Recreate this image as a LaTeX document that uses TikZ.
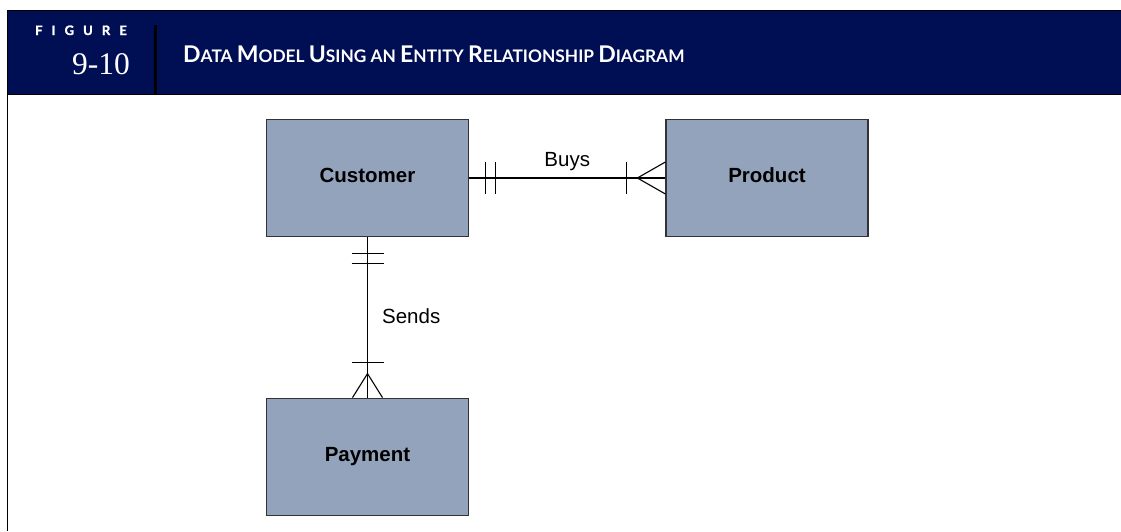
\documentclass[tikz,border=0pt]{standalone}
\usepackage{fontspec}
\setmainfont{Liberation Sans}
\newfontfamily\hdfont{Lato}
\newfontfamily\figfont[LetterSpace=70,FakeBold=1.5]{Lato}
\newfontfamily\numfont{Liberation Serif}
\usetikzlibrary{calc}
\definecolor{navy}{RGB}{0,14,84}
\definecolor{entfill}{RGB}{148,163,188}
\definecolor{entline}{RGB}{50,50,55}
\tikzset{
  entity/.style={draw=entline, fill=entfill, line width=1.2pt, minimum width=202pt, minimum height=117pt,
    inner sep=0pt, font=\fontsize{20.5}{24}\selectfont\bfseries, text height=15pt, text depth=6pt},
  rel/.style={line width=1.3pt, black},
  tick/.style={line width=1.1pt, black},
  lbl/.style={font=\fontsize{20.5}{24}\selectfont, inner sep=0pt},
  frame/.style={line width=1.6pt, black}
}
\newcommand\bigc{\fontsize{23}{26}\selectfont}
\newcommand\smc{\fontsize{17.3}{20}\selectfont}
\begin{document}
\begin{tikzpicture}[x=1pt,y=-1pt]
\useasboundingbox (0,0) rectangle (1121,531);
% header
\fill[navy] (8,11) rectangle (1121,93.5);
\draw[frame] (7.3,10.5) -- (1121,10.5);
\draw[frame] (7.3,94.3) -- (1121,94.3);
\draw[frame] (7.3,10) -- (7.3,531);
\draw[line width=2.4pt, black] (155.5,25) -- (155.5,94);
\node[anchor=base west, inner sep=0pt, text=white, font=\fontsize{13}{14}\selectfont\figfont\bfseries] (figlbl) at (35,35) {FIGURE};
\node[anchor=base east, inner sep=0pt, text=white, font=\fontsize{31.5}{34}\selectfont\numfont] (fignum) at (130,74) {9-10};
\node[anchor=base west, inner sep=0pt, text=white, font=\hdfont\bfseries] (title) at (183,62)
  {\bigc D\smc ATA \bigc M\smc ODEL \bigc U\smc SING AN \bigc E\smc NTITY
   \bigc R\smc ELATIONSHIP \bigc D\smc IAGRAM};
% entities
\node[entity] (cust) at (367.5,178) {Customer};
\node[entity] (prod) at (767,178) {Product};
\node[entity] (pay) at (367.5,456.7) {Payment};
% Buys relationship
\draw[rel] (cust.east) -- node[lbl, anchor=base, yshift=12pt] (buys) {Buys} (prod.west);
\draw[tick] ($(cust.east)+(16,-16)$) -- ($(cust.east)+(16,16)$);
\draw[tick] ($(cust.east)+(26,-16)$) -- ($(cust.east)+(26,16)$);
\draw[tick] ($(prod.west)+(-39,-16)$) -- ($(prod.west)+(-39,16)$);
\draw[tick] ($(prod.west)+(0,-16)$) -- ($(prod.west)+(-28,0)$) -- ($(prod.west)+(0,16)$);
% Sends relationship
\draw[rel] (cust.south) -- node[lbl, anchor=base west, xshift=14pt, yshift=-6pt] (sends) {Sends} (pay.north);
\draw[tick] ($(cust.south)+(-16,16)$) -- ($(cust.south)+(16,16)$);
\draw[tick] ($(cust.south)+(-16,26)$) -- ($(cust.south)+(16,26)$);
\draw[tick] ($(pay.north)+(-16,-35.5)$) -- ($(pay.north)+(16,-35.5)$);
\draw[tick] ($(pay.north)+(-15,0)$) -- ($(pay.north)+(0,-24)$) -- ($(pay.north)+(15,0)$);
\end{tikzpicture}
\end{document}
